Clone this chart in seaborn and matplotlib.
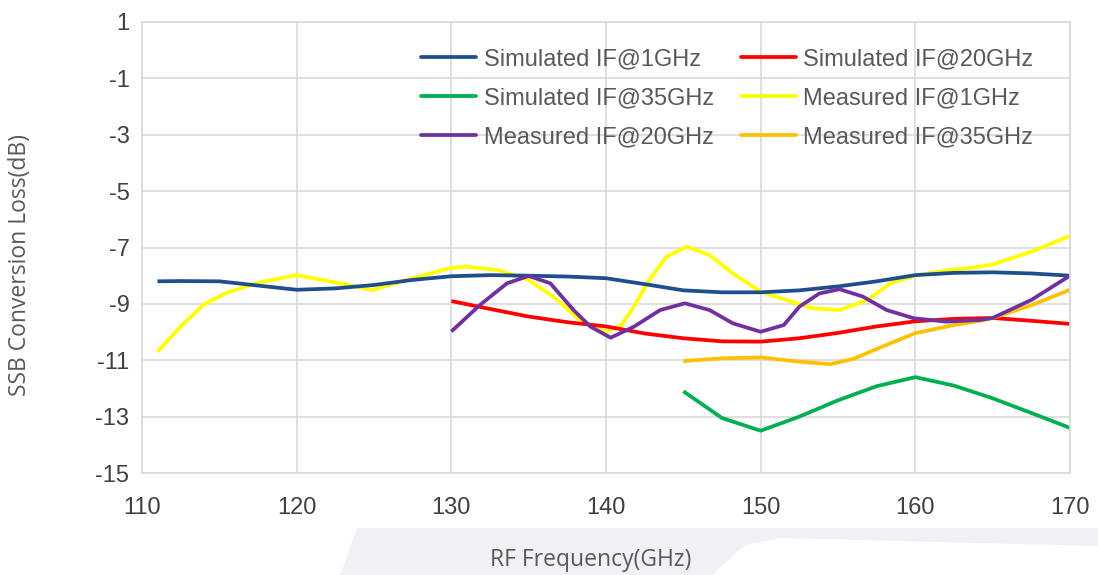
import numpy as np
import pandas as pd
import seaborn as sns
import matplotlib.pyplot as plt
from matplotlib.patches import Polygon
from matplotlib.lines import Line2D

# values (RF frequency in GHz, loss in dB)
f_sim1 = [111, 112.5, 115, 117.5, 120, 122.5, 125, 127.5, 130, 132.5, 135, 137.5, 140,
          142.5, 145, 147.5, 150, 152.5, 155, 157.5, 160, 162.5, 165, 167.5, 170]
sim_if1 = [-8.2, -8.19, -8.2, -8.35, -8.5, -8.45, -8.33, -8.15, -8.02, -7.98, -8.0, -8.03, -8.09,
           -8.3, -8.52, -8.59, -8.59, -8.52, -8.38, -8.2, -7.98, -7.9, -7.88, -7.92, -8.0]

f_sim20 = [130, 132.5, 135, 137.5, 140, 142.5, 145, 147.5, 150, 152.5, 155, 157.5, 160,
           162.5, 165, 167.5, 170]
sim_if20 = [-8.9, -9.18, -9.45, -9.65, -9.8, -10.05, -10.22, -10.33, -10.34, -10.22, -10.03, -9.8,
            -9.62, -9.53, -9.5, -9.6, -9.71]

f_sim35 = [145, 147.5, 150, 152.5, 155, 157.5, 160, 162.5, 165, 167.5, 170]
sim_if35 = [-12.1, -13.05, -13.5, -13.0, -12.42, -11.92, -11.6, -11.9, -12.35, -12.87, -13.4]

f_meas1 = [111, 112.5, 114, 115.5, 117.5, 120, 122.8, 124.9, 127.1, 130, 131, 133, 135, 136.6,
           138.3, 140, 141, 141.8, 142.8, 143.9, 145.2, 146.7, 148.2, 150, 151.3, 153.4, 155.1,
           156.9, 158.4, 160.1, 162, 164.2, 165, 167.5, 170]
meas_if1 = [-10.7, -9.8, -9.02, -8.6, -8.25, -7.98, -8.27, -8.51, -8.15, -7.72, -7.68, -7.8, -8.15, -8.74,
            -9.57, -10.0, -9.75, -9.1, -8.15, -7.33, -6.97, -7.27, -7.92, -8.57, -8.8, -9.16, -9.22,
            -8.86, -8.27, -7.98, -7.82, -7.68, -7.6, -7.15, -6.59]

f_meas20 = [130, 131.85, 133.6, 135, 136.4, 137.9, 139, 140.3, 141.8, 143.5, 145.1, 146.7, 148.2,
            150, 151.5, 152.5, 153.8, 155.1, 156.6, 158.15, 159.9, 162, 164.2, 165, 167.5, 170]
meas_if20 = [-9.98, -9.04, -8.27, -8.01, -8.27, -9.22, -9.81, -10.2, -9.81, -9.22, -8.98, -9.22, -9.69,
             -9.99, -9.75, -9.1, -8.63, -8.48, -8.74, -9.22, -9.51, -9.63, -9.57, -9.5, -8.86, -8.0]

f_meas35 = [145, 147.5, 150, 152.5, 154.5, 156, 157.5, 160, 162.5, 164.2, 165, 167.5, 170]
meas_if35 = [-11.03, -10.93, -10.9, -11.05, -11.14, -10.95, -10.6, -10.04, -9.75, -9.6, -9.5, -9.05, -8.5]

names = ["Simulated IF@1GHz", "Simulated IF@20GHz", "Simulated IF@35GHz",
         "Measured IF@1GHz", "Measured IF@20GHz", "Measured IF@35GHz"]
colors = ["#1f4e8f", "#ff0000", "#00b050", "#ffff00", "#7030a0", "#ffc000"]

df = pd.concat([
    pd.DataFrame({"f": f_sim1, "loss": sim_if1, "series": names[0]}),
    pd.DataFrame({"f": f_sim20, "loss": sim_if20, "series": names[1]}),
    pd.DataFrame({"f": f_sim35, "loss": sim_if35, "series": names[2]}),
    pd.DataFrame({"f": f_meas1, "loss": meas_if1, "series": names[3]}),
    pd.DataFrame({"f": f_meas20, "loss": meas_if20, "series": names[4]}),
    pd.DataFrame({"f": f_meas35, "loss": meas_if35, "series": names[5]}),
])

sns.set_style("white")
plt.rcParams['font.family'] = ['Liberation Sans', 'DejaVu Sans']
plt.rcParams['axes.unicode_minus'] = False

W, H = 1098, 575
fig = plt.figure(figsize=(W / 100, H / 100), dpi=100)

# light grey slide background shape at the bottom (pixel coords, y flipped)
pts = [[357, 528], [1098, 528], [1098, 546], [780, 538], [745, 545], [712, 575], [340, 575]]
bg = Polygon([[x, H - y] for x, y in pts], closed=True, transform=None,
             facecolor="#f0f1f4", edgecolor="none", zorder=0)
fig.patches.append(bg)

ax = fig.add_axes([142 / W, 1 - 473 / H, 928 / W, 451 / H])

# yellow drawn first so the others sit on top of it
order = [3, 0, 1, 5, 2, 4]
for i in order:
    sub = df[df["series"] == names[i]]
    sns.lineplot(data=sub, x="f", y="loss", color=colors[i], lw=2.7, ax=ax,
                 solid_capstyle="butt", solid_joinstyle="round", legend=False)

ax.set_xlim(110, 170)
ax.set_ylim(-15, 1)
ax.set_xticks(np.arange(110, 171, 10))
ax.set_yticks(np.arange(-15, 2, 2))
ax.grid(True, color="#d9d9d9", lw=1.2)
for s in ax.spines.values():
    s.set_color("#d9d9d9")
    s.set_linewidth(1.2)
ax.tick_params(length=0, labelsize=17, labelcolor="#404040")
ax.tick_params(axis="y", pad=9)
ax.tick_params(axis="x", pad=17)
ax.set_xlabel("")
ax.set_ylabel("")

leg_order = [0, 2, 4, 1, 3, 5]
handles = [Line2D([], [], color=colors[i], lw=2.7) for i in leg_order]
leg = ax.legend(handles, [names[i] for i in leg_order],
                ncol=2, frameon=False, fontsize=17, handlelength=2.35, handletextpad=0.3,
                columnspacing=1.15, labelspacing=0.72,
                loc="upper left", bbox_to_anchor=(421 / W, 1 - 48 / H),
                bbox_transform=fig.transFigure, borderaxespad=0, borderpad=0)
for t in leg.get_texts():
    t.set_color("#595959")

fig.text(20 / W, 1 - 265 / H, "SSB Conversion Loss(dB)", rotation=90, ha="center", va="center",
         fontsize=16.5, color="#595959", family=["Open Sans", "DejaVu Sans"])
fig.text(591 / W, 1 - 560 / H, "RF Frequency(GHz)", ha="center", va="center",
         fontsize=16.5, color="#595959", family=["Open Sans", "DejaVu Sans"])

fig.savefig("out.png", dpi=100, facecolor="white")
